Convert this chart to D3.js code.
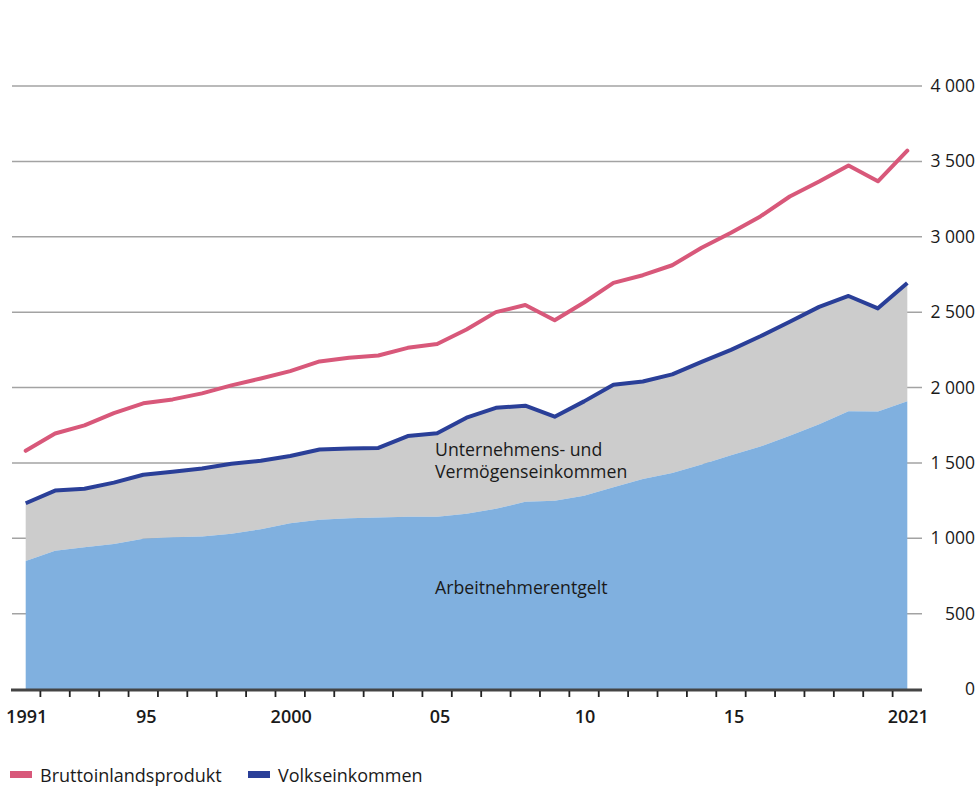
<!DOCTYPE html>
<html>
  <head>
    <meta charset="utf-8" />
    <style>
      body {
        margin: 0;
        background: #fff;
      }
      text {
        font-family: 'Open Sans', sans-serif;
        fill: #1a1a1a;
      }
    </style>
    <script src="https://d3js.org/d3.v7.min.js"></script>
  </head>
  <body>
    <svg id="chart" width="978" height="786"></svg>
  </body>

  <script>
    // Mrd. Euro, Deutschland
    var years = d3.range(1991, 2022);
    var bip = [
      1580, 1695, 1749, 1830, 1895, 1921, 1961, 2014, 2060, 2109, 2173,
      2198, 2212, 2263, 2288, 2385, 2500, 2547, 2446, 2564, 2694, 2745,
      2811, 2927, 3026, 3135, 3267, 3366, 3473, 3368, 3571,
    ];
    var volkseinkommen = [
      1232, 1316, 1328, 1369, 1421, 1441, 1463, 1494, 1514, 1546, 1589,
      1596, 1599, 1678, 1697, 1800, 1865, 1879, 1806, 1908, 2018, 2040,
      2087, 2170, 2250, 2340, 2436, 2535, 2607, 2525, 2693,
    ];
    var arbeitnehmerentgelt = [
      849, 917, 940, 962, 997, 1006, 1011, 1030, 1059, 1100, 1122, 1132,
      1138, 1142, 1142, 1162, 1195, 1242, 1248, 1282, 1338, 1393, 1433,
      1490, 1550, 1608, 1680, 1756, 1843, 1840, 1908,
    ];
    var yTicks = [0, 500, 1000, 1500, 2000, 2500, 3000, 3500, 4000];
    var xLabels = [1991, 1995, 2000, 2005, 2010, 2015, 2021];

    var data = years.map((yr, i) => ({
      year: yr,
      bip: bip[i],
      ve: volkseinkommen[i],
      an: arbeitnehmerentgelt[i],
    }));

    var svg = d3.select('#chart');

    var x = d3.scaleBand().domain(years).range([11, 922]).padding(0);
    var cx = (yr) => x(yr) + x.bandwidth() / 2;
    var y = d3.scaleLinear().domain([0, 4000]).range([689, 86]);

    var de = d3.formatLocale({
      decimal: ',',
      thousands: '\u2009',
      grouping: [3],
      currency: ['', ' €'],
    });
    var fmt = (v) => de.format(',')(v).replace('\u2009', ' ');

    // gridlines
    svg
      .append('g')
      .selectAll('line')
      .data(yTicks.filter((d) => d > 0))
      .join('line')
      .attr('x1', 12)
      .attr('x2', 922)
      .attr('y1', (d) => y(d))
      .attr('y2', (d) => y(d))
      .attr('stroke', '#a3a3a3')
      .attr('stroke-width', 1.5);

    // y labels on the right
    svg
      .append('g')
      .selectAll('text')
      .data(yTicks)
      .join('text')
      .attr('x', 975)
      .attr('y', (d) => y(d) + 6)
      .attr('text-anchor', 'end')
      .style('font-size', '17.5px')
      .text((d) => fmt(d));

    // areas
    var areaAN = d3
      .area()
      .x((d) => cx(d.year))
      .y0(y(0))
      .y1((d) => y(d.an));
    var areaUV = d3
      .area()
      .x((d) => cx(d.year))
      .y0((d) => y(d.an))
      .y1((d) => y(d.ve));

    svg.append('path').datum(data).attr('d', areaUV).attr('fill', '#cccccc');
    svg.append('path').datum(data).attr('d', areaAN).attr('fill', '#80b0df');

    // lines
    var line = (key) =>
      d3
        .line()
        .x((d) => cx(d.year))
        .y((d) => y(d[key]));

    svg
      .append('path')
      .datum(data)
      .attr('d', line('ve'))
      .attr('fill', 'none')
      .attr('stroke', '#2a3f98')
      .attr('stroke-width', 4)
      .attr('stroke-linejoin', 'round');

    svg
      .append('path')
      .datum(data)
      .attr('d', line('bip'))
      .attr('fill', 'none')
      .attr('stroke', '#d8587a')
      .attr('stroke-width', 4)
      .attr('stroke-linejoin', 'round')
      .attr('stroke-linecap', 'round');

    // x axis: line, boundary ticks, labels
    var xAxis = svg.append('g').attr('transform', 'translate(0,690)');
    xAxis
      .append('line')
      .attr('x1', 11)
      .attr('x2', 922)
      .attr('stroke', '#444')
      .attr('stroke-width', 3);
    xAxis
      .selectAll('.tick-b')
      .data(years.slice(1))
      .join('line')
      .attr('class', 'tick-b')
      .attr('x1', (d) => x(d))
      .attr('x2', (d) => x(d))
      .attr('y1', 1)
      .attr('y2', 7)
      .attr('stroke', '#222')
      .attr('stroke-width', 1.8);

    var xl = svg
      .append('g')
      .attr('transform', 'translate(0,702)')
      .call(
        d3
          .axisBottom(x)
          .tickValues(xLabels)
          .tickSize(0)
          .tickFormat((d) =>
            d == 1991 || d == 2000 || d == 2021 ? d : String(d).slice(2)
          )
      );
    xl.select('.domain').remove();
    xl.selectAll('text')
      .attr('dy', 0)
      .attr('y', 21)
      .attr('dx', (d) => (d == 1995 || d == 2005 || d == 2015 ? 3 : 1))
      .style('font-family', "'Open Sans', sans-serif")
      .style('font-size', '18px')
      .style('font-weight', 600)
      .style('fill', '#1a1a1a');

    // area labels
    var lab = svg.append('g').style('font-size', '17.7px');
    lab.append('text').attr('x', 435).attr('y', 456).text('Unternehmens- und');
    lab.append('text').attr('x', 435).attr('y', 478).text('Vermögenseinkommen');
    lab.append('text').attr('x', 435).attr('y', 594).text('Arbeitnehmerentgelt');

    // legend
    var legend = [
      { name: 'Bruttoinlandsprodukt', color: '#d8587a', x: 10 },
      { name: 'Volkseinkommen', color: '#2a3f98', x: 248 },
    ];
    var lg = svg
      .append('g')
      .selectAll('g')
      .data(legend)
      .join('g')
      .attr('transform', (d) => `translate(${d.x},771)`);
    lg.append('rect')
      .attr('width', 22)
      .attr('height', 7)
      .attr('fill', (d) => d.color);
    lg.append('text')
      .attr('x', 30)
      .attr('y', 11)
      .style('font-size', '18px')
      .text((d) => d.name);
  </script>
</html>
